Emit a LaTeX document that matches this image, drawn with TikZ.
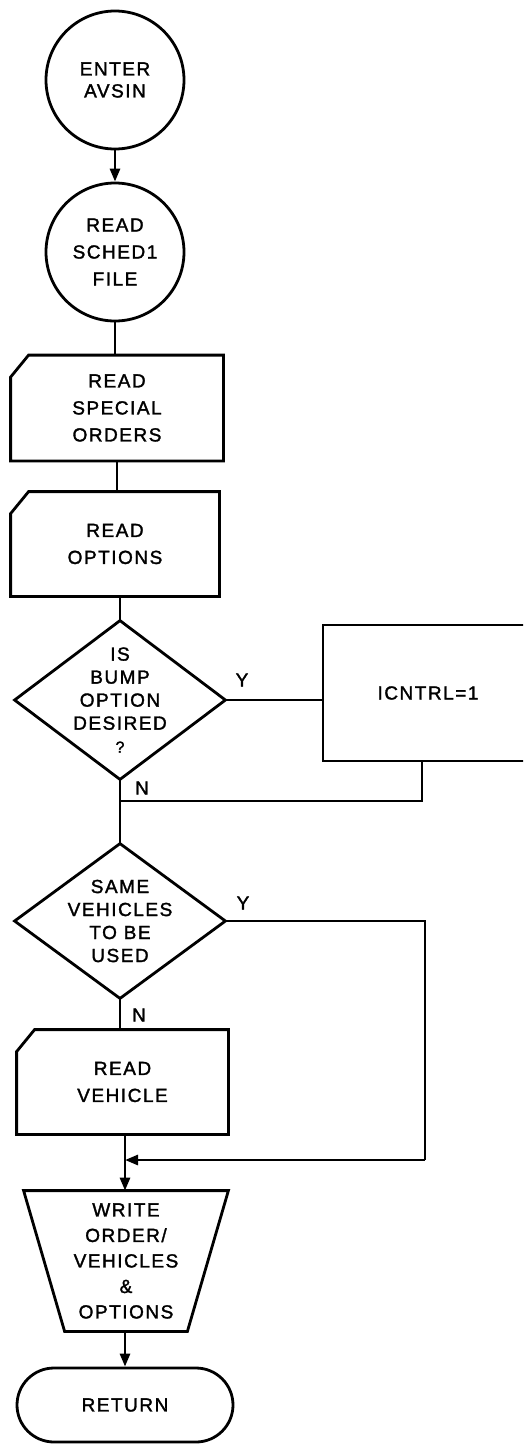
\documentclass[tikz,border=0pt]{standalone}
\usepackage{fontspec}
\setmainfont{Liberation Sans}[LetterSpace=8,FakeBold=1.6]
\usetikzlibrary{arrows.meta,calc}
% outline of a punched-card box around a sized, undrawn node
\newcommand\cardoutline[1]{%
  \draw ([xshift=18pt]#1.north west) -- (#1.north east) -- (#1.south east)
    -- (#1.south west) -- ([yshift=-22pt]#1.north west) -- cycle;}
% outline of a decision diamond around a sized, undrawn node
\newcommand\diamondoutline[1]{%
  \draw (#1.north) -- (#1.east) -- (#1.south) -- (#1.west) -- cycle;}
\begin{document}
\begin{tikzpicture}[x=1pt,y=-1pt,line width=2.8pt,
  txt/.style={align=center,inner sep=0pt,font=\fontsize{19}{27}\selectfont},
  term/.style={txt,draw,circle,minimum size=138pt},
  cardbox/.style={txt,minimum width=#1,minimum height=102pt},
  decide/.style={txt,minimum width=208pt,minimum height=154pt,font=\fontsize{19}{23}\selectfont},
  procbox/.style={txt,draw,minimum width=210pt,minimum height=136pt},
  lbl/.style={inner sep=0pt,font=\fontsize{19}{22}\selectfont},
  arr/.style={-{Triangle[length=13pt,width=10pt]}}]
\useasboundingbox (0,0) rectangle (523,1444);
\clip (0,0) rectangle (523,1444);

% nodes
\node[term,font=\fontsize{19}{22}\selectfont] (enter) at (115,80) {ENTER\\AVSIN};
\node[term] (sched) at (115,252) {READ\\SCHED1\\FILE};
\node[cardbox=210pt,minimum height=103pt] (orders) at (117,408) {READ\\SPECIAL\\ORDERS};
\node[cardbox=206pt] (opts) at (115,544) {READ\\OPTIONS};
\node[decide,minimum height=156pt] (bump) at (120,700) {IS\\BUMP\\OPTION\\DESIRED\\{\fontsize{16}{18}\selectfont ?}};
\node[procbox] (ictrl) at (428,693) {ICNTRL=1};
\node[decide,minimum height=152pt] (same) at (120,921) {SAME\\VEHICLES\\TO BE\\USED};
\node[cardbox=209pt] (veh) at (122.5,1082) {READ\\VEHICLE};
\node[txt,minimum width=202pt,minimum height=138pt,font=\fontsize{19}{25.5}\selectfont] (write) at (126,1261)
  {WRITE\\ORDER/\\VEHICLES\\\&\\OPTIONS};
\node[txt,draw,rounded corners=37pt,minimum width=216pt,minimum height=74pt] (ret) at (125,1405) {RETURN};

% shape outlines
\cardoutline{orders}
\cardoutline{opts}
\cardoutline{veh}
\diamondoutline{bump}
\diamondoutline{same}
\draw (write.north west) -- (write.north east) -- ([xshift=-41pt]write.south east)
  -- ([xshift=41pt]write.south west) -- cycle;

% junction points
\coordinate (joinN) at (120,801);
\coordinate (joinY) at (125,1160);

% connectors
\draw[arr] (enter.south) -- (sched.north);
\draw (sched.south) -- (sched.south |- orders.north);
\draw (orders.south) -- (orders.south |- opts.north);
\draw (opts.south -| bump.north) -- (bump.north);
\draw (bump.east) -- (bump.east -| ictrl.west);
\draw ([xshift=-6pt]ictrl.south) |- (joinN);
\draw (bump.south) -- (same.north);
\draw (same.east) -| (425,1160) coordinate (yturn);
\draw[arr] (yturn) -- (joinY);
\draw (same.south) -- (same.south |- veh.north);
\draw[arr] (veh.south -| joinY) -- (joinY |- write.north);
\draw[arr] (write.south -| ret.north) -- (ret.north);

% branch labels
\node[lbl] (bumpY) at (242,680) {Y};
\node[lbl] (bumpN) at (142,788) {N};
\node[lbl] (sameY) at (243,903) {Y};
\node[lbl] (sameN) at (139,1015) {N};
\end{tikzpicture}
\end{document}
